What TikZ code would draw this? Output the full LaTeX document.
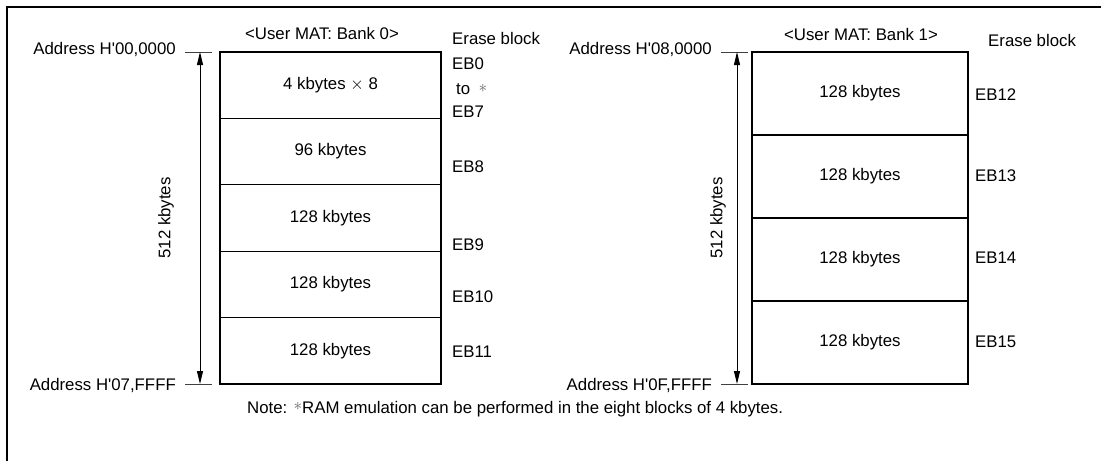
\documentclass[tikz,border=0pt]{standalone}
\usepackage{fontspec}
\setmainfont{Liberation Sans}
\usetikzlibrary{arrows.meta}

\tikzset{
  blk/.style={draw, line width=1.2pt, minimum width=221pt, minimum height=66.4pt, inner sep=0pt, font=\fontsize{16.8}{19}\selectfont},
  blkb/.style={blk, minimum width=216pt, minimum height=83pt},
  txt/.style={inner sep=0pt, font=\fontsize{16.8}{19}\selectfont},
  ebl/.style={txt, anchor=west},
  tick/.style={line width=0.9pt, draw=black!75},
  span/.style={line width=0.9pt, {Triangle[length=13pt,width=6pt]}-{Triangle[length=13pt,width=6pt]}},
}

\begin{document}
\begin{tikzpicture}[x=1pt,y=-1pt]
  \useasboundingbox (0,0) rectangle (1101,461);
  \draw[line width=2pt] (7,461) -- (7,7) -- (1101,7);

  % bank 0
  \node[txt] (t0) at (322,33) {<User MAT: Bank 0>};
  \node[ebl] (e0) at (452,38) {Erase block};
  \node[blk] (a1) at (330.5,85.2) {4 kbytes $\times$ 8};
  \node[blk] (a2) at (330.5,151.6) {96 kbytes};
  \node[blk] (a3) at (330.5,218) {128 kbytes};
  \node[blk] (a4) at (330.5,284.4) {128 kbytes};
  \node[blk] (a5) at (330.5,350.8) {128 kbytes};
  \node[ebl] (b0) at (452,64) {EB0};
  \node[ebl] (bto) at (456,89) {to};
  \node[txt, black!60] (bst) at (483,88) {$\ast$};
  \node[ebl] (b7) at (452,112) {EB7};
  \node[ebl] (b8) at (452,167) {EB8};
  \node[ebl] (b9) at (452,245) {EB9};
  \node[ebl] (b10) at (452,297) {EB10};
  \node[ebl] (b11) at (452,352) {EB11};

  \coordinate (u0) at (200,52);
  \coordinate (d0) at (200,384);
  \draw[tick] (185,52) -- ++(27,0);
  \draw[tick] (185,384) -- ++(27,0);
  \draw[span] (u0) -- (d0);
  \node[txt, anchor=east] (h0) at (176,49) {Address H\textquotesingle00,0000};
  \node[txt, anchor=east] (l0) at (176,385) {Address H\textquotesingle07,FFFF};
  \node[txt, rotate=90] (s0) at (166,218) {512 kbytes};

  % bank 1
  \node[txt] (t1) at (861,34) {<User MAT: Bank 1>};
  \node[ebl] (e1) at (988,40) {Erase block};
  \node[blkb] (c1) at (860,93.5) {128 kbytes};
  \node[blkb] (c2) at (860,176.5) {128 kbytes};
  \node[blkb] (c3) at (860,259.5) {128 kbytes};
  \node[blkb] (c4) at (860,342.5) {128 kbytes};
  \node[ebl] (b12) at (975,95) {EB12};
  \node[ebl] (b13) at (975,176) {EB13};
  \node[ebl] (b14) at (975,258) {EB14};
  \node[ebl] (b15) at (975,342) {EB15};

  \coordinate (u1) at (737,52);
  \coordinate (d1) at (737,384);
  \draw[tick] (721,52) -- ++(27,0);
  \draw[tick] (721,384) -- ++(27,0);
  \draw[span] (u1) -- (d1);
  \node[txt, anchor=east] (h1) at (712,49) {Address H\textquotesingle08,0000};
  \node[txt, anchor=east] (l1) at (712,385) {Address H\textquotesingle0F,FFFF};
  \node[txt, rotate=90] (s1) at (718,218) {512 kbytes};

  % note
  \node[ebl] (nt) at (247,409) {Note: \raisebox{3pt}{\textcolor{black!60}{$\ast$}}RAM emulation can be performed in the eight blocks of 4 kbytes.};
\end{tikzpicture}
\end{document}
